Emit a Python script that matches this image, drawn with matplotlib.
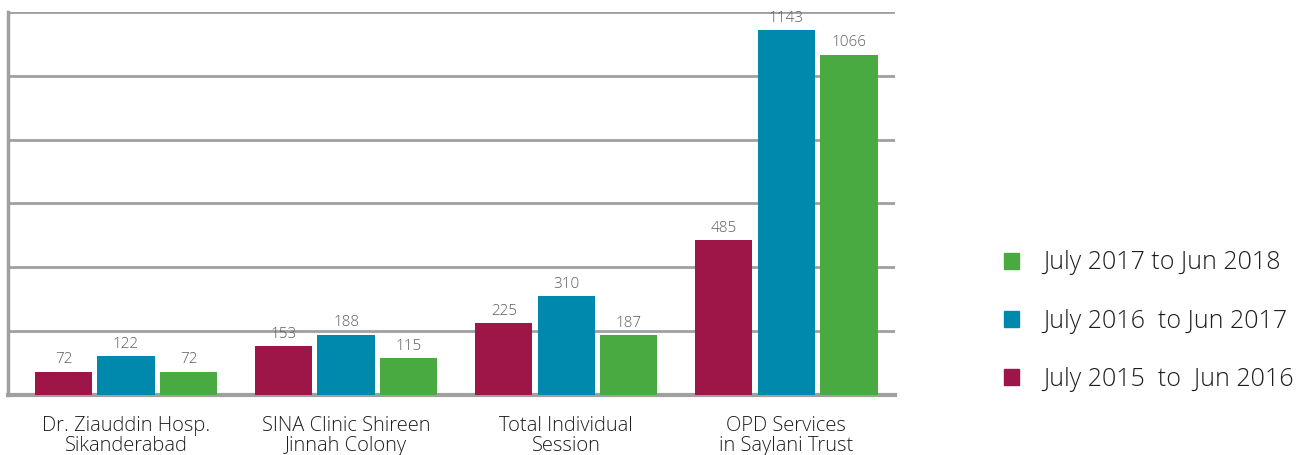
import matplotlib.pyplot as plt
import numpy as np
from matplotlib.patches import Patch

# data
categories = ['Dr. Ziauddin Hosp.\nSikanderabad', 'SINA Clinic Shireen\nJinnah Colony',
              'Total Individual\nSession', 'OPD Services\nin Saylani Trust']
y2015 = [72, 153, 225, 485]
y2016 = [122, 188, 310, 1143]
y2017 = [72, 115, 187, 1066]
series_names = ['July 2015  to  Jun 2016', 'July 2016  to Jun 2017', 'July 2017 to Jun 2018']
colors = ['#9E1648', '#0088AD', '#4AAA42']

plt.rcParams['font.family'] = ['Open Sans', 'DejaVu Sans']
plt.rcParams['font.weight'] = 'light'

fig = plt.figure(figsize=(13.05, 4.55), dpi=100)
ax = fig.add_axes([0.0061, 0.132, 0.68, 0.8416])

x = np.arange(len(categories))
width = 0.26
step = 0.284
for i, (vals, c) in enumerate(zip([y2015, y2016, y2017], colors)):
    bars = ax.bar(x + (i - 1) * step, vals, width, color=c, zorder=3)
    for b, v in zip(bars, vals):
        ax.text(b.get_x() + b.get_width() / 2, v + 14, str(v), ha='center', va='bottom',
                fontsize=11, color='#5e5e5e', zorder=4)

ax.set_xlim(-0.536, 3.495)
ax.set_ylim(0, 1200)
ax.set_yticks(np.arange(0, 1201, 200))
ax.yaxis.grid(True, color='#a0a0a0', linewidth=2, zorder=0)
ax.set_axisbelow(True)
ax.tick_params(axis='y', left=False, labelleft=False)
ax.tick_params(axis='x', bottom=False, pad=12)
ax.set_xticks(x)
ax.set_xticklabels(categories, fontsize=14.5, color='#1e1e1e', linespacing=1.0)
for s in ['top', 'right']:
    ax.spines[s].set_visible(False)
ax.spines['left'].set_color('#a0a0a0')
ax.spines['left'].set_linewidth(2.5)
ax.spines['bottom'].set_color('#a0a0a0')
ax.spines['bottom'].set_linewidth(3)

handles = [Patch(color=c) for c in colors][::-1]
fig.legend(handles, series_names[::-1], loc='center left', bbox_to_anchor=(0.752, 0.294),
           frameon=False, fontsize=18, handlelength=0.62, handleheight=0.62,
           handletextpad=0.95, labelspacing=1.33, labelcolor='#1e1e1e')

plt.savefig('out.png', dpi=100)
